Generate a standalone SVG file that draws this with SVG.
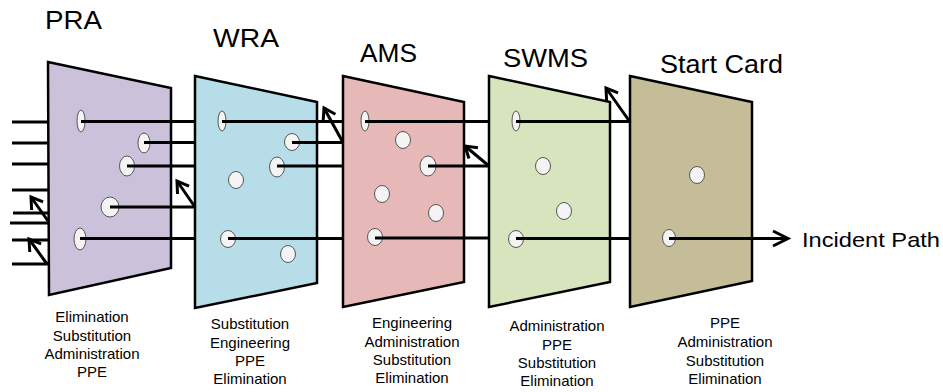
<svg xmlns="http://www.w3.org/2000/svg" width="943" height="392" viewBox="0 0 943 392">
<style>
.panel{stroke:#000;stroke-width:2.5;stroke-linejoin:miter}
.hole{fill:#f4f4f4;stroke:#555;stroke-width:1}
.title{font-family:"Liberation Sans",Arial,sans-serif;font-size:25px;fill:#000}
.lbl{font-family:"Liberation Sans",Arial,sans-serif;font-size:15px;fill:#000;text-anchor:middle}
.ln{stroke:#000;stroke-width:3;fill:none}
.defl{stroke:#000;stroke-width:3;fill:none;marker-end:url(#chev)}
</style>
<defs>
<marker id="chev" markerUnits="userSpaceOnUse" markerWidth="20" markerHeight="20" viewBox="-14 -10 18 20" refX="0" refY="0" orient="auto">
<path d="M -11 -7 L 0 0 L -11 7" fill="none" stroke="#000" stroke-width="3"/>
</marker>
<marker id="chevBig" markerUnits="userSpaceOnUse" markerWidth="24" markerHeight="24" viewBox="-18 -12 22 24" refX="0" refY="0" orient="auto">
<path d="M -15 -7.5 L 0 0 L -15 7.5" fill="none" stroke="#000" stroke-width="3"/>
</marker>
</defs>
<rect width="943" height="392" fill="#fff"/>

<g id="pra">
<polygon class="panel" points="48,62 171,88 171,268 49,295" fill="#ccc1da"/>
<ellipse class="hole" cx="81" cy="121" rx="4" ry="11"/>
<ellipse class="hole" cx="144" cy="143" rx="6" ry="10"/>
<ellipse class="hole" cx="127" cy="166" rx="7.5" ry="10"/>
<ellipse class="hole" cx="110" cy="207" rx="9" ry="10"/>
<ellipse class="hole" cx="80" cy="239" rx="6" ry="11"/>
<text class="title" x="45" y="29" textLength="57" lengthAdjust="spacingAndGlyphs">PRA</text>
<text class="lbl" x="92" y="322">Elimination</text>
<text class="lbl" x="92" y="340.5">Substitution</text>
<text class="lbl" x="92" y="358.5">Administration</text>
<text class="lbl" x="92" y="377">PPE</text>
</g>

<g id="wra">
<polygon class="panel" points="195,76 317,102 317,283 195,308" fill="#b7dee8"/>
<ellipse class="hole" cx="222" cy="121" rx="4" ry="10"/>
<ellipse class="hole" cx="292" cy="142" rx="7.5" ry="8.5"/>
<ellipse class="hole" cx="277" cy="167" rx="7.5" ry="10"/>
<ellipse class="hole" cx="236" cy="180" rx="7.5" ry="8.5"/>
<ellipse class="hole" cx="228" cy="239" rx="7.5" ry="8.5"/>
<ellipse class="hole" cx="288" cy="254" rx="7.5" ry="8.5"/>
<text class="title" x="213" y="47" textLength="66" lengthAdjust="spacingAndGlyphs">WRA</text>
<text class="lbl" x="250" y="329">Substitution</text>
<text class="lbl" x="250" y="347.5">Engineering</text>
<text class="lbl" x="250" y="366">PPE</text>
<text class="lbl" x="250" y="384">Elimination</text>
</g>

<g id="ams">
<polygon class="panel" points="343,76 464,102 464,282 343,307" fill="#e6b9b8"/>
<ellipse class="hole" cx="365" cy="121" rx="4" ry="10"/>
<ellipse class="hole" cx="403" cy="140" rx="7.5" ry="8.5"/>
<ellipse class="hole" cx="428" cy="166" rx="8" ry="10"/>
<ellipse class="hole" cx="382" cy="194" rx="7.5" ry="8.5"/>
<ellipse class="hole" cx="436" cy="213" rx="7.5" ry="8.5"/>
<ellipse class="hole" cx="375" cy="237" rx="7.5" ry="8.5"/>
<text class="title" x="360" y="62" textLength="57" lengthAdjust="spacingAndGlyphs">AMS</text>
<text class="lbl" x="412" y="328">Engineering</text>
<text class="lbl" x="412" y="346.5">Administration</text>
<text class="lbl" x="412" y="365">Substitution</text>
<text class="lbl" x="412" y="383">Elimination</text>
</g>

<g id="swms">
<polygon class="panel" points="489,76 610,102 610,282 489,307" fill="#d7e4bd"/>
<ellipse class="hole" cx="516" cy="121" rx="4" ry="10"/>
<ellipse class="hole" cx="543" cy="166" rx="7.5" ry="8.5"/>
<ellipse class="hole" cx="564" cy="211" rx="7.5" ry="8.5"/>
<ellipse class="hole" cx="516" cy="239" rx="7.5" ry="8.5"/>
<text class="title" x="503" y="67" textLength="85" lengthAdjust="spacingAndGlyphs">SWMS</text>
<text class="lbl" x="557" y="331">Administration</text>
<text class="lbl" x="557" y="349.5">PPE</text>
<text class="lbl" x="557" y="368">Substitution</text>
<text class="lbl" x="557" y="386">Elimination</text>
</g>

<g id="start-card">
<polygon class="panel" points="630,76 752,102 752,281 630,307" fill="#c4bd97"/>
<ellipse class="hole" cx="697" cy="175" rx="7.5" ry="8.5"/>
<ellipse class="hole" cx="669" cy="238" rx="6.5" ry="8.5"/>
<text class="title" x="660" y="73" textLength="123" lengthAdjust="spacingAndGlyphs">Start Card</text>
<text class="lbl" x="725" y="328">PPE</text>
<text class="lbl" x="725" y="347">Administration</text>
<text class="lbl" x="725" y="365.5">Substitution</text>
<text class="lbl" x="725" y="384">Elimination</text>
</g>

<g id="incident-path-label">
<text x="802" y="247" font-family="'Liberation Sans',Arial,sans-serif" font-size="21" textLength="138" lengthAdjust="spacingAndGlyphs">Incident Path</text>
</g>

<g id="connectors">
<!-- left stubs -->
<line class="ln" x1="12" y1="122" x2="48" y2="122"/>
<line class="ln" x1="12" y1="143" x2="48" y2="143"/>
<line class="ln" x1="12" y1="164" x2="48" y2="164"/>
<line class="ln" x1="12" y1="190" x2="48" y2="190"/>
<line class="ln" x1="13" y1="213" x2="48" y2="213"/>
<line class="ln" x1="10" y1="223" x2="48" y2="223"/>
<line class="ln" x1="12" y1="240" x2="48" y2="240"/>
<line class="ln" x1="12" y1="264" x2="48" y2="264"/>
<line class="defl" x1="48" y1="221" x2="31" y2="197"/>
<line class="defl" x1="47" y1="264" x2="29" y2="239"/>
<!-- path 1 -->
<line class="ln" x1="81" y1="121.5" x2="195" y2="121.5"/>
<line class="ln" x1="222" y1="121.5" x2="343" y2="121.5"/>
<line class="ln" x1="365" y1="121.5" x2="489" y2="121.5"/>
<line class="ln" x1="516" y1="121.5" x2="630" y2="121.5"/>
<line class="defl" x1="630" y1="122" x2="606" y2="88"/>
<!-- path 2 -->
<line class="ln" x1="144" y1="142.5" x2="195" y2="142.5"/>
<line class="ln" x1="292" y1="142.5" x2="343" y2="142.5"/>
<line class="defl" x1="343" y1="142.5" x2="324" y2="108"/>
<!-- path 3 -->
<line class="ln" x1="127" y1="166" x2="195" y2="166"/>
<line class="ln" x1="277" y1="166" x2="343" y2="166"/>
<line class="ln" x1="428" y1="166" x2="489" y2="166"/>
<line class="defl" x1="489" y1="166" x2="465" y2="146"/>
<!-- path 4 -->
<line class="ln" x1="110" y1="207" x2="195" y2="207"/>
<line class="defl" x1="195" y1="207" x2="177" y2="181"/>
<!-- path 5: incident path -->
<line class="ln" x1="80" y1="238.5" x2="195" y2="238.5"/>
<line class="ln" x1="228" y1="238.5" x2="343" y2="238.5"/>
<line class="ln" x1="375" y1="238" x2="489" y2="238"/>
<line class="ln" x1="516" y1="238.5" x2="630" y2="238.5"/>
<line class="ln" x1="669" y1="238.5" x2="788" y2="238.5" marker-end="url(#chevBig)"/>
</g>
</svg>
